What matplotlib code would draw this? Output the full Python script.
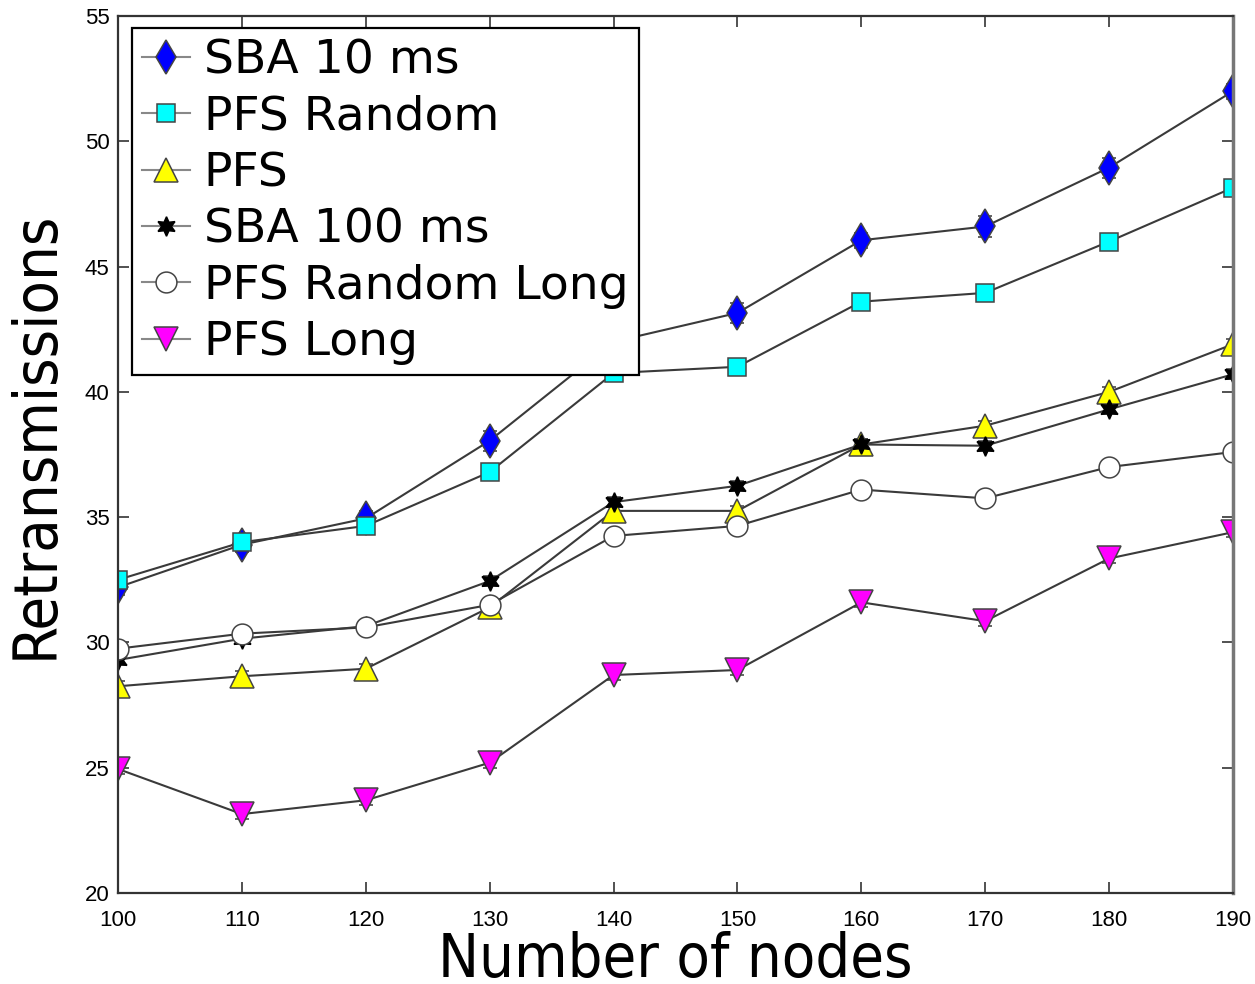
import matplotlib
matplotlib.use("Agg")
import matplotlib.pyplot as plt
from matplotlib.font_manager import FontProperties, findfont

nodes = [100, 110, 120, 130, 140, 150, 160, 170, 180, 190]

sba_10 = [32.2, 33.9, 34.95, 38.05, 42.0, 43.15, 46.05, 46.6, 48.95, 52.0]
pfs_random = [32.5, 34.0, 34.65, 36.8, 40.75, 41.0, 43.6, 43.95, 46.0, 48.15]
pfs = [28.25, 28.65, 28.95, 31.4, 35.25, 35.25, 37.9, 38.65, 40.0, 41.9]
sba_100 = [29.3, 30.15, 30.65, 32.45, 35.6, 36.25, 37.9, 37.85, 39.3, 40.7]
pfs_random_long = [29.75, 30.35, 30.6, 31.5, 34.25, 34.65, 36.1, 35.75, 37.0, 37.6]
pfs_long = [24.95, 23.15, 23.7, 25.2, 28.7, 28.9, 31.6, 30.85, 33.35, 34.4]

err_sba_10 = [0.3, 0.3, 0.3, 0.4, 0.4, 0.4, 0.3, 0.4, 0.4, 0.3]
err_other = [0.2, 0.2, 0.2, 0.2, 0.2, 0.2, 0.2, 0.2, 0.2, 0.2]

labels = ["SBA 10 ms", "PFS Random", "PFS", "SBA 100 ms", "PFS Random Long", "PFS Long"]
series = [sba_10, pfs_random, pfs, sba_100, pfs_random_long, pfs_long]
errors = [err_sba_10, err_other, err_other, err_other, err_other, err_other]
markers = ["d", "s", "^", (6, 1, 0), "o", "v"]
colors = ["#0000ff", "#00ffff", "#ffff00", "#000000", "#ffffff", "#ff00ff"]
msizes = [17, 13, 17, 14, 15, 17]

cond = FontProperties(family="DejaVu Sans", stretch="condensed")
has_cond = "Condensed" in findfont(cond)

fig = plt.figure(figsize=(12.55, 9.84), dpi=100)
ax = fig.add_axes([118/1255, 1 - 893/984, (1233-118)/1255, (893-16)/984])

line_handles = []
for y, e, lab, m, c, ms in zip(series, errors, labels, markers, colors, msizes):
    edge = "#000000" if c == "#000000" else "#444444"
    cont = ax.errorbar(nodes, y, yerr=e, color="#3a3a3a", lw=1.5, ecolor="#3a3a3a",
                       elinewidth=1.1, capsize=5, capthick=1.1,
                       marker=m, markersize=ms, markerfacecolor=c, markeredgecolor=edge,
                       markeredgewidth=1.1, label=lab)
    line_handles.append(cont[0])

ax.set_xlim(100, 190)
ax.set_ylim(20, 55)
ax.set_xticks(nodes)
ax.set_yticks([20, 25, 30, 35, 40, 45, 50, 55])
ax.tick_params(direction="in", top=True, right=True, length=8, width=1.2,
               labelsize=16, pad=6, color="#333333")
ax.tick_params(axis="x", pad=12)
for lbl in ax.get_xticklabels() + ax.get_yticklabels():
    lbl.set_family("Liberation Sans")
for s in ax.spines.values():
    s.set_linewidth(1.6)
    s.set_color("#333333")
ax.spines["right"].set_color("#777777")
ax.spines["right"].set_linewidth(2.5)

if has_cond:
    ax.set_xlabel("Number of nodes", fontsize=44, family="DejaVu Sans", stretch="condensed", labelpad=0)
    ax.set_ylabel("Retransmissions", fontsize=44, family="DejaVu Sans", stretch="condensed")
else:
    ax.set_xlabel("Number of nodes", fontsize=40, family="DejaVu Sans", labelpad=0)
    ax.set_ylabel("Retransmissions", fontsize=40, family="DejaVu Sans")
ax.yaxis.set_label_coords(-0.047, 0.522)

leg = ax.legend(line_handles, labels, loc="upper left", bbox_to_anchor=(14/1115, 1 - 12/877),
                frameon=True, fancybox=False, numpoints=1,
                handlelength=1.0, handletextpad=0.3, labelspacing=0.24,
                borderpad=0.22, borderaxespad=0, prop={"family": "DejaVu Sans", "size": 34})
leg.get_frame().set_edgecolor("black")
leg.get_frame().set_linewidth(1.6)
leg.get_frame().set_alpha(1)
for h in leg.legend_handles:
    h.set_color("#888888")

fig.savefig("out.png", dpi=100)
